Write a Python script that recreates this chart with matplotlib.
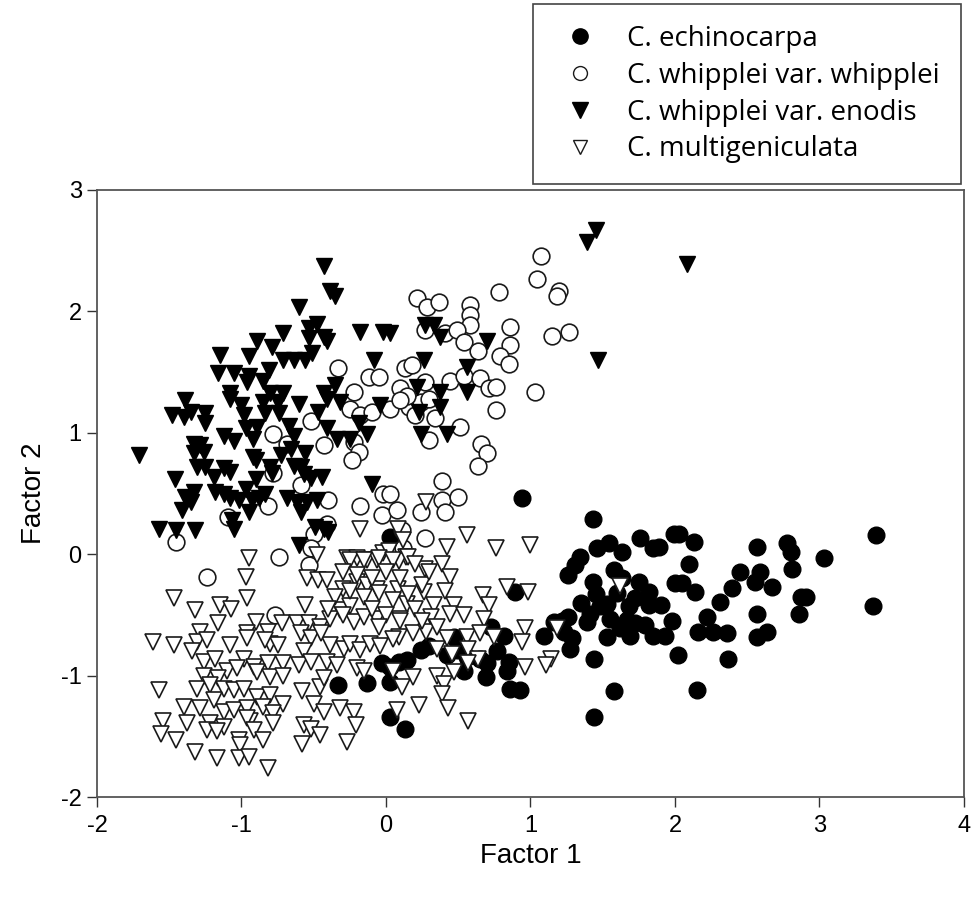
import matplotlib
matplotlib.use("Agg")
import matplotlib.pyplot as plt
from matplotlib.lines import Line2D

# Values (Factor 1, Factor 2)
echino_x = [0.94, 1.43, 1.76, 1.99, 1.46, 1.54, 1.63, 1.85, 1.89, 1.345, 1.31, 1.26, 1.575, 1.63, 1.43, 1.75,
            1.82, 2.00, 0.03, 0.895,
            2.025, 2.13, 2.57, 2.775, 2.80, 3.39, 2.095, 3.03, 2.45, 2.59, 2.555, 2.81, 2.395, 2.67, 2.05, 2.14,
            2.31, 2.87, 2.91, 3.37,
            2.855, 2.22, 2.57, 2.16, 2.26, 2.36, 2.57, 2.64, 2.02, 2.37, 2.15,
            1.09, 1.16, 1.26, 1.23, 1.29, 1.275, 1.41, 1.39, 1.48, 1.53, 1.55, 1.53, 1.62, 1.68, 1.69, 1.67, 1.725,
            1.82, 1.795, 1.85, 1.93, 1.44, 1.575, 1.44,
            0.73, 0.815, 0.77, 0.85, 0.84, 0.70, 0.69, 0.54, 0.56, 0.86, 0.93, 0.24, 0.295, 0.145, 0.09, 0.03, 0.03,
            0.03, 0.13, 0.47, 0.49, 0.42, 0.65,
            -0.33, -0.13, -0.03,
            1.35, 1.45, 1.60, 1.72, 1.90, 1.98, 1.22]
echino_y = [0.46, 0.29, 0.13, 0.17, 0.05, 0.09, 0.02, 0.05, 0.06, -0.02, -0.09, -0.17, -0.13, -0.20, -0.23, -0.23,
            -0.31, -0.24, 0.14, -0.31,
            0.17, 0.10, 0.06, 0.09, 0.02, 0.16, -0.08, -0.035, -0.145, -0.145, -0.23, -0.12, -0.28, -0.27, -0.24, -0.31,
            -0.39, -0.35, -0.35, -0.43,
            -0.49, -0.52, -0.49, -0.64, -0.64, -0.65, -0.68, -0.64, -0.83, -0.86, -1.12,
            -0.67, -0.56, -0.52, -0.64, -0.69, -0.78, -0.49, -0.56, -0.43, -0.41, -0.53, -0.68, -0.61, -0.43, -0.67,
            -0.54, -0.57,
            -0.42, -0.585, -0.67, -0.67, -0.86, -1.13, -1.34,
            -0.60, -0.67, -0.80, -0.89, -0.96, -0.90, -1.01, -0.96, -0.85, -1.11, -1.12, -0.79, -0.76, -0.87, -0.89,
            -0.93, -1.05,
            -1.34, -1.44, -0.68, -0.79, -0.83, -0.86,
            -1.08, -1.065, -0.90,
            -0.40, -0.33, -0.32, -0.36, -0.42, -0.55, -0.55]

whip_x = [-0.33, -0.12, -0.05, -0.22,
          -0.25, -0.18, -0.52, -0.78, -0.685, -0.43, -0.22, -0.19, -0.235, -0.78, -0.59, -0.40, -0.82, -1.09, -1.45,
          -0.18, -0.02, -0.03, -0.41, -0.50, -0.52, -0.74, -0.535, -1.24, -0.77,
          1.07, 1.045, 0.78, 1.195, 1.18, 0.215, 0.285, 0.365, 0.58, 0.58, 0.58, 0.86, 1.15, 1.265, 0.27, 0.41, 0.49,
          0.54, 0.64, 0.86, 0.79, 0.85, 0.13, 0.18, 0.27, 0.445, 0.54, 0.65, 0.71, 0.76, 1.03, 0.10,
          0.03, 0.16, 0.24, 0.145, 0.10, 0.34, 0.51, 0.295, 0.66, 0.70, 0.64, 0.76, 0.39, 0.03, 0.39, 0.50, 0.41,
          0.24, 0.076, 0.11, 0.12, 0.27,
          0.20, 0.30, -0.10]
whip_y = [1.53, 1.46, 1.46, 1.34,
          1.20, 1.145, 1.10, 0.99, 0.91, 0.90, 0.925, 0.84, 0.775, 0.665, 0.57, 0.445, 0.40, 0.31, 0.10,
          0.40, 0.50, 0.32, 0.25, 0.17, 0.05, -0.02, -0.09, -0.19, -0.50,
          2.46, 2.27, 2.16, 2.17, 2.13, 2.11, 2.04, 2.08, 2.05, 1.97, 1.89, 1.87, 1.80, 1.83, 1.85, 1.82, 1.85,
          1.75, 1.67, 1.72, 1.63, 1.57, 1.53, 1.56, 1.42, 1.43, 1.47, 1.45, 1.37, 1.38, 1.34, 1.37,
          1.20, 1.21, 1.25, 1.30, 1.27, 1.12, 1.05, 0.94, 0.91, 0.83, 0.73, 1.19, 0.60, 0.50, 0.445, 0.47, 0.35,
          0.35, 0.36, 0.20, 0.05, 0.13,
          1.15, 1.28, 1.17]

enodis_x = [-0.43, -0.385, -0.35, -0.60, -0.48, -0.535, -0.71, -0.43, -0.41, -0.89, -0.53, -0.79, -0.18, -0.02,
            -1.15, -0.95, -0.51, -0.71, -0.64, -0.56, -0.085, -1.16, -1.05, -0.95, -0.81, -0.85, -0.96, -0.35,
            -0.71, -0.80, -1.08, -0.43,
            -1.39, -1.48, -1.40, -1.35, -1.25, -1.25, -1.08, -1.00, -0.985, -0.85, -0.75, -0.84, -0.74, -0.60,
            -0.47, -0.41, -0.32, -0.04, -0.97, -0.89, -0.67, -0.64, -0.41, -0.34, -0.25, -0.19, -0.13, -1.12,
            -1.05, -0.92, -1.71, -1.33, -1.285, -1.33, -1.26, -0.92, -0.90, -0.73, -0.66, -0.56, -1.31, -1.25,
            -1.12, -1.08, -0.80, -0.79, -0.64, -0.59, -0.57, -0.52, -0.44, -1.46, -1.19, -0.90, -0.10, -1.33,
            -1.39, -1.35, -1.18, -1.12, -1.08, -1.02, -0.97, -0.93, -0.88, -0.84, -0.95, -0.685, -0.615, -0.55,
            -0.48, -0.59, -1.41, -1.065, -1.05, -1.57, -1.45, -1.32, -0.60, -0.43, -0.40, -0.49,
            1.45, 1.39, 1.47, 0.03, 0.27, 0.33, 0.375, 0.70, 0.26, 0.56, 0.215, 0.375, 0.56,
            2.08,
            0.23, 0.375, 0.24, 0.42]
enodis_y = [2.37, 2.17, 2.13, 2.04, 1.90, 1.86, 1.82, 1.79, 1.76, 1.76, 1.78, 1.71, 1.83, 1.83,
            1.64, 1.63, 1.66, 1.60, 1.60, 1.60, 1.60, 1.49, 1.49, 1.47, 1.52, 1.43, 1.42, 1.39,
            1.33, 1.33, 1.33, 1.33,
            1.27, 1.15, 1.13, 1.17, 1.16, 1.08, 1.28, 1.23, 1.15, 1.25, 1.25, 1.16, 1.16, 1.24,
            1.17, 1.28, 1.25, 1.23, 1.04, 1.05, 1.06, 0.97, 1.04, 0.95, 0.95, 1.08, 0.99, 0.97,
            0.93, 0.95, 0.82, 0.91, 0.90, 0.83, 0.84, 0.80, 0.78, 0.815, 0.87, 0.83, 0.72, 0.72,
            0.71, 0.68, 0.72, 0.665, 0.73, 0.72, 0.66, 0.63, 0.64, 0.62, 0.64, 0.62, 0.58, 0.51,
            0.47, 0.43, 0.51, 0.50, 0.46, 0.445, 0.54, 0.445, 0.46, 0.50, 0.35, 0.46, 0.43, 0.43,
            0.445, 0.35, 0.36, 0.28, 0.21, 0.21, 0.20, 0.20, 0.075, 0.21, 0.18, 0.225,
            2.67, 2.57, 1.60, 1.82, 1.89, 1.89, 1.79, 1.76, 1.60, 1.54, 1.38, 1.34, 1.34,
            2.39,
            1.17, 1.21, 0.99, 0.99]

multi_x = [-0.95, -0.97, -0.18, -0.27, -0.20, -0.13, -0.06, -0.02, -0.48, -0.55, -0.47, -0.41, -0.30, -0.20,
           -0.13, -0.06,
           0.28, 0.56, 0.42, 0.76, 1.00, 0.08, 0.12, 0.14, 0.09, 0.02, 0.27, 0.39, 0.445, 0.84, 0.98, 1.62, 0.08,
           0.26, 0.41, 0.67,
           0.965, 0.94, 0.965, 1.14, 1.11, 1.18, 0.145, 0.33, 0.47, 0.71, 0.10, 0.31, 0.445, 0.54, 0.68, 0.09,
           0.19, 0.28, 0.42, 0.56, 0.65, 0.745, 0.35, 0.46, 0.57, 0.64, 0.05, 0.19, 0.35, 0.47, 0.57, 0.11, 0.40,
           0.39, 0.076, 0.23, 0.43, 0.57,
           -1.47, -0.965, -1.32, -1.15, -1.07, -0.56, -0.32, -0.25, -1.16, -0.90, -0.72, -0.615, -0.535, -0.455,
           -0.385, -0.22, -0.15, -0.06, -1.61, -1.47, -1.285, -1.31, -1.24, -1.34, -1.08, -0.96, -0.96, -0.82,
           -0.80, -0.75, -0.835, -0.59, -0.52, -0.57, -0.385, -0.29, -0.25, -0.18, -0.11, -0.04, -1.26, -1.18,
           -1.10, -0.985, -0.915, -0.82, -0.71, -0.60, -0.52, -0.41, -0.34, -0.20, -0.15, -1.26, -1.16, -1.03,
           -0.89, -0.80, -0.71, -1.57, -1.31, -1.215, -1.12, -1.05, -0.985, -0.89, -0.80, -0.58, -0.455, -0.43,
           -0.71, -1.40, -1.285, -1.19, -1.12, -1.05, -0.96, -0.85, -0.78, -0.94, -0.50, -0.43, -0.32, -0.22,
           -1.54, -1.56, -1.45, -1.38, -1.215, -1.24, -1.12, -1.17, -0.96, -0.915, -0.78, -0.57, -0.52, -0.455,
           -0.58, -0.21, -0.27, -1.02, -1.01, -0.85, -1.32, -1.17, -1.02, -0.95, -0.82,
           -0.25, -0.15, -0.05, 0.05, 0.15, 0.20, -0.30, -0.20, -0.10, 0.00, 0.10, 0.25, 0.30, -0.35, -0.25,
           -0.15, -0.05, 0.05, 0.15, 0.20, -0.40, -0.30, -0.10, 0.00, 0.10, 0.25, 0.35, -0.45, -0.05, 0.05]
multi_y = [-0.035, -0.19, 0.21, -0.03, -0.03, -0.05, -0.05, 0.01, -0.01, -0.20, -0.21, -0.21, -0.29, -0.23,
           -0.25, -0.29,
           0.43, 0.16, 0.06, 0.05, 0.075, 0.21, 0.115, -0.02, -0.06, 0.03, -0.12, -0.08, -0.19, -0.27, -0.31,
           -0.26, -0.29, -0.31, -0.30, -0.34,
           -0.61, -0.72, -0.93, -0.86, -0.91, -0.61, -0.41, -0.42, -0.42, -0.42, -0.53, -0.52, -0.49, -0.50,
           -0.53, -0.68, -0.65, -0.64, -0.69, -0.68, -0.65, -0.68, -0.78, -0.82, -0.78, -0.86, -0.96, -1.01,
           -1.00, -0.97, -0.90, -1.09, -1.07, -1.15, -1.28, -1.24, -1.27, -1.37,
           -0.36, -0.36, -0.46, -0.42, -0.45, -0.42, -0.46, -0.43, -0.57, -0.56, -0.57, -0.57, -0.57, -0.60,
           -0.53, -0.56, -0.52, -0.53, -0.72, -0.75, -0.64, -0.72, -0.71, -0.80, -0.75, -0.65, -0.69, -0.64,
           -0.74, -0.75, -0.71, -0.65, -0.69, -0.80, -0.75, -0.78, -0.74, -0.79, -0.74, -0.76, -0.89, -0.86,
           -0.96, -0.86, -0.93, -0.90, -0.90, -0.91, -0.89, -0.89, -0.91, -0.94, -0.96, -1.00, -1.02, -0.94,
           -0.97, -1.01, -1.00, -1.12, -1.11, -1.08, -1.11, -1.12, -1.11, -1.18, -1.16, -1.13, -1.09, -1.02,
           -1.23, -1.26, -1.27, -1.20, -1.30, -1.285, -1.27, -1.26, -1.31, -1.37, -1.23, -1.30, -1.27, -1.30,
           -1.37, -1.48, -1.53, -1.39, -1.39, -1.45, -1.42, -1.46, -1.35, -1.45, -1.39, -1.41, -1.44, -1.49,
           -1.56, -1.41, -1.55, -1.53, -1.57, -1.53, -1.63, -1.68, -1.68, -1.67, -1.765,
           -0.05, -0.05, -0.03, -0.05, -0.02, -0.08, -0.15, -0.17, -0.20, -0.15, -0.20, -0.25, -0.15, -0.35,
           -0.30, -0.35, -0.32, -0.38, -0.33, -0.45, -0.45, -0.50, -0.45, -0.50, -0.55, -0.55, -0.60, -0.65,
           -0.60, -0.70]

labels = ["C. echinocarpa", "C. whipplei var. whipplei", "C. whipplei var. enodis", "C. multigeniculata"]

plt.rcParams['font.family'] = ['Liberation Sans', 'DejaVu Sans']
plt.rcParams['axes.unicode_minus'] = False

fig = plt.figure(figsize=(9.73, 8.98), dpi=100)
ax = fig.add_axes([97 / 973, 101 / 898, 867 / 973, 607 / 898])

ms = 12
ec = '#1a1a1a'
ax.plot(echino_x, echino_y, 'o', ms=ms, mfc='black', mec='black', mew=1.0, ls='none')
ax.plot(whip_x, whip_y, 'o', ms=ms, mfc='white', mec=ec, mew=1.2, ls='none')
ax.plot(enodis_x, enodis_y, 'v', ms=ms, mfc='black', mec='black', mew=1.0, ls='none')
ax.plot(multi_x, multi_y, 'v', ms=ms, mfc='white', mec=ec, mew=1.2, ls='none')

ax.set_xlim(-2, 4)
ax.set_ylim(-2, 3)
ax.set_xticks([-2, -1, 0, 1, 2, 3, 4])
ax.set_yticks([-2, -1, 0, 1, 2, 3])
ax.tick_params(direction='out', length=7, width=1.0, colors='#333333', labelcolor='black',
               labelsize=17, top=False, right=False)
ax.tick_params(axis='x', pad=6)
ax.tick_params(axis='y', pad=4)
for s in ax.spines.values():
    s.set_color('#555555')
    s.set_linewidth(1.3)

ax.set_xlabel("Factor 1", fontsize=20, labelpad=4)
ax.set_ylabel("Factor 2", fontsize=20, labelpad=10)

# legend sits above the plot, top right
handles = [
    Line2D([], [], marker='o', ls='none', ms=11, mfc='black', mec='black'),
    Line2D([], [], marker='o', ls='none', ms=10, mfc='white', mec=ec, mew=1.0),
    Line2D([], [], marker='v', ls='none', ms=11, mfc='black', mec='black'),
    Line2D([], [], marker='v', ls='none', ms=10, mfc='white', mec=ec, mew=1.0),
]
leg = fig.legend(handles, labels, loc='upper left', bbox_to_anchor=(533 / 973, 1 - 4 / 898),
                 frameon=True, fancybox=False, edgecolor='#444444', framealpha=1,
                 prop={'family': 'Open Sans', 'size': 20}, borderpad=0.75, labelspacing=0.32,
                 handlelength=1.9, handletextpad=0.75, borderaxespad=0)
leg.get_frame().set_linewidth(1.2)

fig.savefig("out.png", dpi=100)
